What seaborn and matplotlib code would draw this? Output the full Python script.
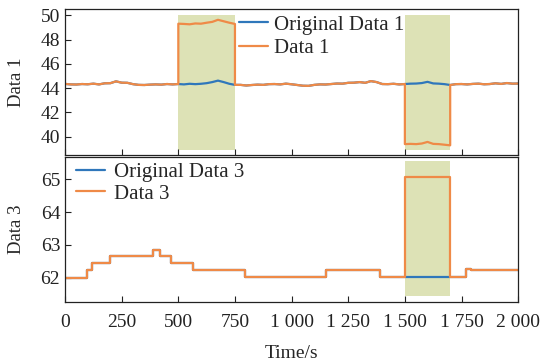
import numpy as np
import pandas as pd
import seaborn as sns
import matplotlib.pyplot as plt
from matplotlib.ticker import FuncFormatter

# time grid of the top series (s)
time1 = np.arange(0, 2001, 25)
orig1 = [44.35, 44.31, 44.30, 44.34, 44.32, 44.37, 44.31, 44.40, 44.41, 44.56,
         44.45, 44.44, 44.33, 44.27, 44.26, 44.29, 44.31, 44.29, 44.34, 44.31,
         44.34, 44.31, 44.36, 44.33, 44.36, 44.41, 44.50, 44.62, 44.50, 44.36,
         44.27, 44.27, 44.22, 44.26, 44.29, 44.27, 44.33, 44.34, 44.31, 44.37,
         44.32, 44.26, 44.20, 44.19, 44.27, 44.31, 44.30, 44.34, 44.38, 44.37,
         44.44, 44.45, 44.50, 44.44, 44.58, 44.50, 44.34, 44.33, 44.36, 44.31,
         44.34, 44.37, 44.38, 44.42, 44.52, 44.39, 44.37, 44.33, 44.26, 44.33,
         44.34, 44.31, 44.35, 44.37, 44.32, 44.34, 44.40, 44.35, 44.42, 44.37,
         44.38]

# Data 1 inside the two shaded windows
win1_t = np.arange(500, 751, 25)
win1_v = [49.30, 49.28, 49.25, 49.32, 49.30, 49.38, 49.45, 49.62, 49.50, 49.38, 49.28]
win2_t = np.arange(1500, 1701, 25)
win2_v = [39.40, 39.42, 39.40, 39.45, 39.58, 39.42, 39.40, 39.35, 39.30]

# bottom step series
time3 = [0, 95, 120, 200, 390, 420, 468, 565, 795, 1150, 1390, 1500, 1700, 1770, 1790, 2000]
orig3 = [62.00, 62.24, 62.44, 62.65, 62.86, 62.65, 62.44, 62.24, 62.02, 62.24,
         62.02, 62.02, 62.02, 62.27, 62.24, 62.24]
data3 = [62.00, 62.24, 62.44, 62.65, 62.86, 62.65, 62.44, 62.24, 62.02, 62.24,
         62.02, 65.06, 62.02, 62.27, 62.24, 62.24]

top_windows = [(500, 750), (1500, 1700)]
bot_windows = [(1500, 1700)]

BLUE = "#2f77bb"
ORANGE = "#ef8a47"
SHADE = "#dde2b6"

sns.set_theme(style="ticks")
plt.rcParams["font.family"] = ["Liberation Serif", "DejaVu Serif"]
plt.rcParams["font.size"] = 14
plt.rcParams["xtick.direction"] = "in"
plt.rcParams["ytick.direction"] = "in"

t1 = np.array(time1)
o1 = np.array(orig1)
pre = t1 <= 500
mid = (t1 >= 750) & (t1 <= 1500)
post = t1 >= 1700
d1_t = np.concatenate([t1[pre], win1_t, t1[mid], win2_t, t1[post]])
d1_v = np.concatenate([o1[pre], win1_v, o1[mid], win2_v, o1[post]])

top = pd.DataFrame({"t": t1, "v": o1})
top_att = pd.DataFrame({"t": d1_t, "v": d1_v})
bot = pd.DataFrame({"t": time3, "orig": orig3, "data": data3})

fig = plt.figure(figsize=(5.42, 3.64), dpi=100)
ax1 = fig.add_axes([0.120, 0.574, 0.836, 0.401])
ax2 = fig.add_axes([0.120, 0.170, 0.836, 0.399])

for a, b in top_windows:
    ax1.fill_between([a, b], 38.9, 50.0, color=SHADE, lw=0, zorder=0)
for a, b in bot_windows:
    ax2.fill_between([a, b], 61.44, 65.54, color=SHADE, lw=0, zorder=0)

sns.lineplot(data=top, x="t", y="v", ax=ax1, color=BLUE, lw=1.6,
             estimator=None, sort=False, label="Original Data 1")
sns.lineplot(data=top_att, x="t", y="v", ax=ax1, color=ORANGE, lw=1.6,
             estimator=None, sort=False, label="Data 1")

sns.lineplot(data=bot, x="t", y="orig", ax=ax2, color=BLUE, lw=1.6,
             estimator=None, sort=False, drawstyle="steps-post", label="Original Data 3")
sns.lineplot(data=bot, x="t", y="data", ax=ax2, color=ORANGE, lw=1.6,
             estimator=None, sort=False, drawstyle="steps-post", label="Data 3")

thousands = FuncFormatter(lambda v, p: f"{int(v):,}".replace(",", " "))

for ax in (ax1, ax2):
    ax.set_xlim(0, 2000)
    ax.set_xticks(range(0, 2001, 250))
    ax.tick_params(length=4, width=0.8, colors="#222222", labelsize=14)
    ax.tick_params(axis="x", pad=8.5)
    for s in ax.spines.values():
        s.set_linewidth(0.9)
        s.set_color("#222222")

ax1.set_ylim(38.5, 50.5)
ax1.set_yticks(range(40, 51, 2))
ax1.set_xticklabels([])
ax1.set_xlabel("")
ax1.set_ylabel("Data 1", fontsize=13.5)

ax2.set_ylim(61.26, 65.68)
ax2.set_yticks([62, 63, 64, 65])
ax2.xaxis.set_major_formatter(thousands)
ax2.set_xlabel("Time/s", fontsize=14, labelpad=10)
ax2.set_ylabel("Data 3", fontsize=13.5)

for ax in (ax1, ax2):
    ax.yaxis.set_label_coords(-0.088, 0.5)

ax1.legend(loc="upper left", bbox_to_anchor=(0.384, 0.96), frameon=False,
           borderpad=0, borderaxespad=0, handlelength=1.4, handletextpad=0.3,
           labelspacing=0.2, fontsize=15)
ax2.legend(loc="upper left", bbox_to_anchor=(0.024, 0.96), frameon=False,
           borderpad=0, borderaxespad=0, handlelength=1.4, handletextpad=0.45,
           labelspacing=0.08, fontsize=15)

fig.savefig("out.png", dpi=100)
